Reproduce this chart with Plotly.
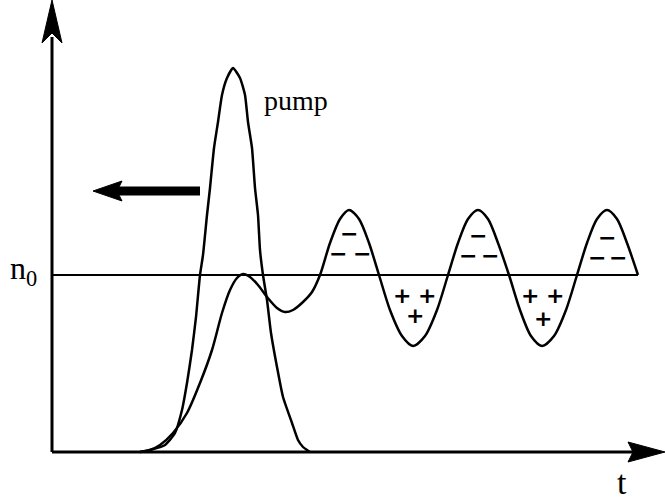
import plotly.graph_objects as go

# Pump pulse intensity vs time
pump_t = [88, 98, 113, 123, 130, 135, 140, 144, 148, 151, 155, 158, 162, 166, 170, 175,
          181, 188, 193, 196, 200, 203, 206, 208, 211, 215, 219, 225, 231, 240, 246, 251, 255, 258]
pump_n = [0, 2, 7, 19, 42, 69, 102, 135, 177, 197, 237, 264, 304, 330, 357, 374,
          384, 374, 357, 330, 304, 264, 237, 202, 177, 152, 119, 85, 55, 29, 12, 5, 2, 0]

# Electron density response vs time (oscillates about n0 after the pump)
dens_t = [88, 98, 108, 121, 135, 148, 160, 170, 178, 185, 191, 198, 206, 215, 225, 233, 241, 251, 260, 268,
          278, 288, 297, 307, 317, 327, 338, 350, 361, 373, 385, 396, 406, 416, 426, 436, 446,
          457, 468, 479, 490, 502, 514, 525, 535, 545, 555, 565, 575, 586]
dens_n = [0, 2, 7, 19, 39, 69, 102, 139, 162, 174, 178, 175, 167, 155, 144, 140, 142, 150, 160, 177,
          209, 233, 242, 233, 209, 177, 142, 116, 106, 116, 142, 177, 209, 233, 242, 233, 209,
          177, 142, 116, 106, 116, 142, 177, 209, 233, 242, 233, 209, 177]

n0_level = 177
t_end = 586

# Charge signs in the density lobes
minus_t = [297, 286, 310, 426, 416, 438, 555, 545, 566]
minus_n = [219, 199, 199, 217, 197, 197, 215, 195, 195]
plus_t = [350, 375, 363, 478, 503, 491]
plus_n = [157, 157, 137, 157, 157, 134]

fig = go.Figure()

fig.add_trace(go.Scatter(x=pump_t, y=pump_n, mode="lines",
                         line=dict(color="black", width=2.5, shape="spline", smoothing=0.5),
                         hoverinfo="skip"))
fig.add_trace(go.Scatter(x=dens_t, y=dens_n, mode="lines",
                         line=dict(color="black", width=2.5, shape="spline", smoothing=0.8),
                         hoverinfo="skip"))
fig.add_trace(go.Scatter(x=[0, t_end], y=[n0_level, n0_level], mode="lines",
                         line=dict(color="black", width=2.2), hoverinfo="skip"))

shapes = []
# Vertical axis with arrowhead
shapes.append(dict(type="line", x0=0, y0=0, x1=0, y1=415, line=dict(color="black", width=3)))
shapes.append(dict(type="path", path="M 0,452 L -10,409 L 0,419 L 10,409 Z",
                   fillcolor="black", line=dict(color="black", width=1)))
# Horizontal axis with arrowhead
shapes.append(dict(type="line", x0=0, y0=0, x1=585, y1=0, line=dict(color="black", width=3)))
shapes.append(dict(type="path", path="M 613,0 L 576,10 L 581,0 L 576,-10 Z",
                   fillcolor="black", line=dict(color="black", width=1)))
# Thick arrow pointing back in time
shapes.append(dict(type="line", x0=63, y0=261, x1=148, y1=261, line=dict(color="black", width=9)))
shapes.append(dict(type="path", path="M 41,261 L 70,271 L 65,261 L 70,251 Z",
                   fillcolor="black", line=dict(color="black", width=1)))

annotations = []
annotations.append(dict(x=244, y=352, text="pump", showarrow=False,
                        font=dict(family="Liberation Serif", size=28, color="black")))
annotations.append(dict(x=-29, y=182, text="n<sub>0</sub>", showarrow=False,
                        font=dict(family="Liberation Serif", size=32, color="black")))
annotations.append(dict(x=570, y=-30, text="t", showarrow=False,
                        font=dict(family="Liberation Serif", size=34, color="black")))
for x, y in zip(minus_t, minus_n):
    annotations.append(dict(x=x, y=y, text="<b>\u2212</b>", showarrow=False,
                            font=dict(family="DejaVu Sans", size=22, color="black")))
for x, y in zip(plus_t, plus_n):
    annotations.append(dict(x=x, y=y, text="<b>+</b>", showarrow=False,
                            font=dict(family="DejaVu Sans", size=22, color="black")))

fig.update_layout(
    width=665, height=502,
    margin=dict(l=0, r=0, t=0, b=0),
    paper_bgcolor="white", plot_bgcolor="white",
    showlegend=False,
    xaxis=dict(range=[-52, 613], visible=False, fixedrange=True),
    yaxis=dict(range=[-50, 452], visible=False, fixedrange=True),
    shapes=shapes,
    annotations=annotations,
)

fig.write_html("out.html")
